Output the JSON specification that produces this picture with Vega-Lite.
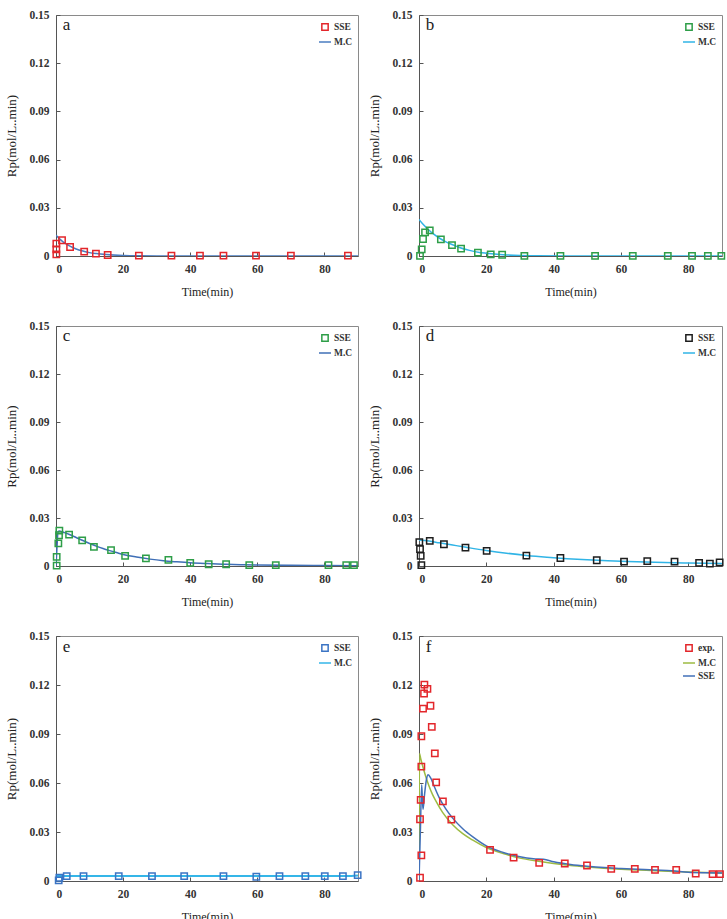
{
  "$schema": "https://vega.github.io/schema/vega-lite/v6.json",
  "padding": {"left": 5, "top": 8, "right": 0, "bottom": 0},
  "background": "white",
  "datasets": {
    "a": [
      {"series": "SSE", "kind": "obs", "t": 0.1, "rp": 0.0077},
      {"series": "SSE", "kind": "obs", "t": 0.1, "rp": 0.0041},
      {"series": "SSE", "kind": "obs", "t": 0.1, "rp": 0.001},
      {"series": "SSE", "kind": "obs", "t": 1.8, "rp": 0.0098},
      {"series": "SSE", "kind": "obs", "t": 4.2, "rp": 0.0056},
      {"series": "SSE", "kind": "obs", "t": 8.4, "rp": 0.0027},
      {"series": "SSE", "kind": "obs", "t": 11.9, "rp": 0.0015},
      {"series": "SSE", "kind": "obs", "t": 15.4, "rp": 0.0006},
      {"series": "SSE", "kind": "obs", "t": 24.7, "rp": 0.0002},
      {"series": "SSE", "kind": "obs", "t": 34.4, "rp": 0.0002},
      {"series": "SSE", "kind": "obs", "t": 42.9, "rp": 0.0002},
      {"series": "SSE", "kind": "obs", "t": 49.9, "rp": 0.0002},
      {"series": "SSE", "kind": "obs", "t": 59.6, "rp": 0.0002},
      {"series": "SSE", "kind": "obs", "t": 70, "rp": 0.0002},
      {"series": "SSE", "kind": "obs", "t": 87, "rp": 0.0002},
      {"series": "M.C", "kind": "fit", "t": 0, "rp": 0.0129},
      {"series": "M.C", "kind": "fit", "t": 1, "rp": 0.0108},
      {"series": "M.C", "kind": "fit", "t": 2, "rp": 0.009},
      {"series": "M.C", "kind": "fit", "t": 3, "rp": 0.0075},
      {"series": "M.C", "kind": "fit", "t": 4, "rp": 0.0063},
      {"series": "M.C", "kind": "fit", "t": 6, "rp": 0.0044},
      {"series": "M.C", "kind": "fit", "t": 8, "rp": 0.0031},
      {"series": "M.C", "kind": "fit", "t": 10, "rp": 0.0021},
      {"series": "M.C", "kind": "fit", "t": 12, "rp": 0.0015},
      {"series": "M.C", "kind": "fit", "t": 15, "rp": 0.0009},
      {"series": "M.C", "kind": "fit", "t": 20, "rp": 0.0003},
      {"series": "M.C", "kind": "fit", "t": 25, "rp": 0.0001},
      {"series": "M.C", "kind": "fit", "t": 30, "rp": 0.00005},
      {"series": "M.C", "kind": "fit", "t": 40, "rp": 0},
      {"series": "M.C", "kind": "fit", "t": 90, "rp": 0}
    ],
    "b": [
      {"series": "SSE", "kind": "obs", "t": 0.3, "rp": 0.0001},
      {"series": "SSE", "kind": "obs", "t": 0.8, "rp": 0.0041},
      {"series": "SSE", "kind": "obs", "t": 1.2, "rp": 0.0106},
      {"series": "SSE", "kind": "obs", "t": 1.8, "rp": 0.0147},
      {"series": "SSE", "kind": "obs", "t": 3.2, "rp": 0.016},
      {"series": "SSE", "kind": "obs", "t": 6.5, "rp": 0.0104},
      {"series": "SSE", "kind": "obs", "t": 9.8, "rp": 0.0068},
      {"series": "SSE", "kind": "obs", "t": 12.5, "rp": 0.0046},
      {"series": "SSE", "kind": "obs", "t": 17.5, "rp": 0.0021},
      {"series": "SSE", "kind": "obs", "t": 21.3, "rp": 0.001},
      {"series": "SSE", "kind": "obs", "t": 24.7, "rp": 0.0008},
      {"series": "SSE", "kind": "obs", "t": 31.3, "rp": 0.0001},
      {"series": "SSE", "kind": "obs", "t": 42, "rp": 0.0001},
      {"series": "SSE", "kind": "obs", "t": 52.3, "rp": 0.0001},
      {"series": "SSE", "kind": "obs", "t": 63.5, "rp": 0.0001},
      {"series": "SSE", "kind": "obs", "t": 73.9, "rp": 0.0001},
      {"series": "SSE", "kind": "obs", "t": 81.1, "rp": 0.0001},
      {"series": "SSE", "kind": "obs", "t": 85.8, "rp": 0.0001},
      {"series": "SSE", "kind": "obs", "t": 89.8, "rp": 0.0001},
      {"series": "M.C", "kind": "fit", "t": 0, "rp": 0.0228},
      {"series": "M.C", "kind": "fit", "t": 1, "rp": 0.0202},
      {"series": "M.C", "kind": "fit", "t": 2, "rp": 0.018},
      {"series": "M.C", "kind": "fit", "t": 3, "rp": 0.016},
      {"series": "M.C", "kind": "fit", "t": 4, "rp": 0.0142},
      {"series": "M.C", "kind": "fit", "t": 6, "rp": 0.0112},
      {"series": "M.C", "kind": "fit", "t": 8, "rp": 0.0088},
      {"series": "M.C", "kind": "fit", "t": 10, "rp": 0.007},
      {"series": "M.C", "kind": "fit", "t": 12, "rp": 0.0053},
      {"series": "M.C", "kind": "fit", "t": 15, "rp": 0.0035},
      {"series": "M.C", "kind": "fit", "t": 18, "rp": 0.0022},
      {"series": "M.C", "kind": "fit", "t": 20, "rp": 0.0017},
      {"series": "M.C", "kind": "fit", "t": 25, "rp": 0.0008},
      {"series": "M.C", "kind": "fit", "t": 30, "rp": 0.0003},
      {"series": "M.C", "kind": "fit", "t": 35, "rp": 0.0001},
      {"series": "M.C", "kind": "fit", "t": 45, "rp": 0.00003},
      {"series": "M.C", "kind": "fit", "t": 90, "rp": 0}
    ],
    "c": [
      {"series": "SSE", "kind": "obs", "t": 0.2, "rp": 0.0002},
      {"series": "SSE", "kind": "obs", "t": 0.2, "rp": 0.0057},
      {"series": "SSE", "kind": "obs", "t": 0.7, "rp": 0.0141},
      {"series": "SSE", "kind": "obs", "t": 0.9, "rp": 0.0192},
      {"series": "SSE", "kind": "obs", "t": 1.0, "rp": 0.0221},
      {"series": "SSE", "kind": "obs", "t": 3.9, "rp": 0.0196},
      {"series": "SSE", "kind": "obs", "t": 7.8, "rp": 0.016},
      {"series": "SSE", "kind": "obs", "t": 11.3, "rp": 0.012},
      {"series": "SSE", "kind": "obs", "t": 16.4, "rp": 0.0099},
      {"series": "SSE", "kind": "obs", "t": 20.6, "rp": 0.0063},
      {"series": "SSE", "kind": "obs", "t": 26.8, "rp": 0.0048},
      {"series": "SSE", "kind": "obs", "t": 33.5, "rp": 0.0038},
      {"series": "SSE", "kind": "obs", "t": 40, "rp": 0.0019},
      {"series": "SSE", "kind": "obs", "t": 45.5, "rp": 0.0011},
      {"series": "SSE", "kind": "obs", "t": 50.7, "rp": 0.0011},
      {"series": "SSE", "kind": "obs", "t": 57.6, "rp": 0.0006},
      {"series": "SSE", "kind": "obs", "t": 65.5, "rp": 0.0006},
      {"series": "SSE", "kind": "obs", "t": 81.2, "rp": 0.0006},
      {"series": "SSE", "kind": "obs", "t": 86.5, "rp": 0.0006},
      {"series": "SSE", "kind": "obs", "t": 88.8, "rp": 0.0006},
      {"series": "M.C", "kind": "fit", "t": 0, "rp": 0},
      {"series": "M.C", "kind": "fit", "t": 0.3, "rp": 0.012},
      {"series": "M.C", "kind": "fit", "t": 0.6, "rp": 0.0215},
      {"series": "M.C", "kind": "fit", "t": 1, "rp": 0.0218},
      {"series": "M.C", "kind": "fit", "t": 2, "rp": 0.0212},
      {"series": "M.C", "kind": "fit", "t": 4, "rp": 0.0197},
      {"series": "M.C", "kind": "fit", "t": 6, "rp": 0.0178},
      {"series": "M.C", "kind": "fit", "t": 8, "rp": 0.0159},
      {"series": "M.C", "kind": "fit", "t": 10, "rp": 0.0141},
      {"series": "M.C", "kind": "fit", "t": 12, "rp": 0.0124},
      {"series": "M.C", "kind": "fit", "t": 14, "rp": 0.0109},
      {"series": "M.C", "kind": "fit", "t": 16, "rp": 0.0096},
      {"series": "M.C", "kind": "fit", "t": 18, "rp": 0.0084},
      {"series": "M.C", "kind": "fit", "t": 20, "rp": 0.0072},
      {"series": "M.C", "kind": "fit", "t": 24, "rp": 0.0056},
      {"series": "M.C", "kind": "fit", "t": 28, "rp": 0.0043},
      {"series": "M.C", "kind": "fit", "t": 32, "rp": 0.0033},
      {"series": "M.C", "kind": "fit", "t": 36, "rp": 0.0026},
      {"series": "M.C", "kind": "fit", "t": 40, "rp": 0.002},
      {"series": "M.C", "kind": "fit", "t": 45, "rp": 0.0015},
      {"series": "M.C", "kind": "fit", "t": 50, "rp": 0.0011},
      {"series": "M.C", "kind": "fit", "t": 55, "rp": 0.0008},
      {"series": "M.C", "kind": "fit", "t": 60, "rp": 0.0006},
      {"series": "M.C", "kind": "fit", "t": 70, "rp": 0.0004},
      {"series": "M.C", "kind": "fit", "t": 80, "rp": 0.0003},
      {"series": "M.C", "kind": "fit", "t": 90, "rp": 0.0002}
    ],
    "d": [
      {"series": "SSE", "kind": "obs", "t": 0.1, "rp": 0.0149},
      {"series": "SSE", "kind": "obs", "t": 0.3, "rp": 0.0105},
      {"series": "SSE", "kind": "obs", "t": 0.5, "rp": 0.0063},
      {"series": "SSE", "kind": "obs", "t": 0.7, "rp": 0.0006},
      {"series": "SSE", "kind": "obs", "t": 3.2, "rp": 0.0157},
      {"series": "SSE", "kind": "obs", "t": 7.4, "rp": 0.0136},
      {"series": "SSE", "kind": "obs", "t": 13.8, "rp": 0.0115},
      {"series": "SSE", "kind": "obs", "t": 20.1, "rp": 0.0094},
      {"series": "SSE", "kind": "obs", "t": 31.9, "rp": 0.0065},
      {"series": "SSE", "kind": "obs", "t": 42, "rp": 0.005},
      {"series": "SSE", "kind": "obs", "t": 52.8, "rp": 0.0036},
      {"series": "SSE", "kind": "obs", "t": 60.9, "rp": 0.0027},
      {"series": "SSE", "kind": "obs", "t": 67.8, "rp": 0.0031},
      {"series": "SSE", "kind": "obs", "t": 75.9, "rp": 0.0027},
      {"series": "SSE", "kind": "obs", "t": 83.2, "rp": 0.0019},
      {"series": "SSE", "kind": "obs", "t": 86.4, "rp": 0.0015},
      {"series": "SSE", "kind": "obs", "t": 89.3, "rp": 0.0023},
      {"series": "M.C", "kind": "fit", "t": 0, "rp": 0.0162},
      {"series": "M.C", "kind": "fit", "t": 3, "rp": 0.0156},
      {"series": "M.C", "kind": "fit", "t": 6, "rp": 0.0145},
      {"series": "M.C", "kind": "fit", "t": 10, "rp": 0.0131},
      {"series": "M.C", "kind": "fit", "t": 14, "rp": 0.0117},
      {"series": "M.C", "kind": "fit", "t": 20, "rp": 0.0097},
      {"series": "M.C", "kind": "fit", "t": 26, "rp": 0.008},
      {"series": "M.C", "kind": "fit", "t": 32, "rp": 0.0066},
      {"series": "M.C", "kind": "fit", "t": 38, "rp": 0.0055},
      {"series": "M.C", "kind": "fit", "t": 44, "rp": 0.0046},
      {"series": "M.C", "kind": "fit", "t": 50, "rp": 0.0039},
      {"series": "M.C", "kind": "fit", "t": 56, "rp": 0.0033},
      {"series": "M.C", "kind": "fit", "t": 62, "rp": 0.0028},
      {"series": "M.C", "kind": "fit", "t": 70, "rp": 0.0023},
      {"series": "M.C", "kind": "fit", "t": 80, "rp": 0.0019},
      {"series": "M.C", "kind": "fit", "t": 90, "rp": 0.0016}
    ],
    "e": [
      {"series": "SSE", "kind": "obs", "t": 0.8, "rp": 0.0004},
      {"series": "SSE", "kind": "obs", "t": 1, "rp": 0.002},
      {"series": "SSE", "kind": "obs", "t": 3.2, "rp": 0.003},
      {"series": "SSE", "kind": "obs", "t": 8.2, "rp": 0.003},
      {"series": "SSE", "kind": "obs", "t": 18.7, "rp": 0.003},
      {"series": "SSE", "kind": "obs", "t": 28.6, "rp": 0.003},
      {"series": "SSE", "kind": "obs", "t": 38.2, "rp": 0.003},
      {"series": "SSE", "kind": "obs", "t": 49.9, "rp": 0.003},
      {"series": "SSE", "kind": "obs", "t": 59.7, "rp": 0.0026},
      {"series": "SSE", "kind": "obs", "t": 66.6, "rp": 0.003},
      {"series": "SSE", "kind": "obs", "t": 74.3, "rp": 0.003},
      {"series": "SSE", "kind": "obs", "t": 80.1, "rp": 0.003},
      {"series": "SSE", "kind": "obs", "t": 85.5, "rp": 0.003},
      {"series": "SSE", "kind": "obs", "t": 89.9, "rp": 0.0036},
      {"series": "M.C", "kind": "fit", "t": 0, "rp": 0.003},
      {"series": "M.C", "kind": "fit", "t": 45, "rp": 0.003},
      {"series": "M.C", "kind": "fit", "t": 88, "rp": 0.0031},
      {"series": "M.C", "kind": "fit", "t": 90, "rp": 0.0034}
    ],
    "f": [
      {"series": "exp.", "kind": "obs", "t": 0.3, "rp": 0.002},
      {"series": "exp.", "kind": "obs", "t": 0.7, "rp": 0.0157},
      {"series": "exp.", "kind": "obs", "t": 0.3, "rp": 0.0378},
      {"series": "exp.", "kind": "obs", "t": 0.5, "rp": 0.0497},
      {"series": "exp.", "kind": "obs", "t": 0.7, "rp": 0.07},
      {"series": "exp.", "kind": "obs", "t": 0.7, "rp": 0.0886},
      {"series": "exp.", "kind": "obs", "t": 1.2, "rp": 0.1055},
      {"series": "exp.", "kind": "obs", "t": 1.5, "rp": 0.1148},
      {"series": "exp.", "kind": "obs", "t": 1.6, "rp": 0.1202},
      {"series": "exp.", "kind": "obs", "t": 2.5, "rp": 0.1176},
      {"series": "exp.", "kind": "obs", "t": 3.4, "rp": 0.1073},
      {"series": "exp.", "kind": "obs", "t": 3.8, "rp": 0.0944},
      {"series": "exp.", "kind": "obs", "t": 4.7, "rp": 0.0781},
      {"series": "exp.", "kind": "obs", "t": 5.1, "rp": 0.0604},
      {"series": "exp.", "kind": "obs", "t": 7.1, "rp": 0.0487},
      {"series": "exp.", "kind": "obs", "t": 9.6, "rp": 0.0376},
      {"series": "exp.", "kind": "obs", "t": 21.1, "rp": 0.0191},
      {"series": "exp.", "kind": "obs", "t": 28.1, "rp": 0.0143},
      {"series": "exp.", "kind": "obs", "t": 35.7, "rp": 0.0111},
      {"series": "exp.", "kind": "obs", "t": 43.3, "rp": 0.0107},
      {"series": "exp.", "kind": "obs", "t": 49.9, "rp": 0.0095},
      {"series": "exp.", "kind": "obs", "t": 57.1, "rp": 0.0074},
      {"series": "exp.", "kind": "obs", "t": 64.1, "rp": 0.0074},
      {"series": "exp.", "kind": "obs", "t": 70.1, "rp": 0.0068},
      {"series": "exp.", "kind": "obs", "t": 76.4, "rp": 0.0068},
      {"series": "exp.", "kind": "obs", "t": 82.2, "rp": 0.0046},
      {"series": "exp.", "kind": "obs", "t": 87.2, "rp": 0.0042},
      {"series": "exp.", "kind": "obs", "t": 89.4, "rp": 0.0042},
      {"series": "M.C", "kind": "fit", "t": 0, "rp": 0},
      {"series": "M.C", "kind": "fit", "t": 0.15, "rp": 0.078},
      {"series": "M.C", "kind": "fit", "t": 0.5, "rp": 0.075},
      {"series": "M.C", "kind": "fit", "t": 1, "rp": 0.071},
      {"series": "M.C", "kind": "fit", "t": 2, "rp": 0.064},
      {"series": "M.C", "kind": "fit", "t": 3, "rp": 0.058},
      {"series": "M.C", "kind": "fit", "t": 4, "rp": 0.053},
      {"series": "M.C", "kind": "fit", "t": 5, "rp": 0.049},
      {"series": "M.C", "kind": "fit", "t": 7, "rp": 0.042},
      {"series": "M.C", "kind": "fit", "t": 10, "rp": 0.0345},
      {"series": "M.C", "kind": "fit", "t": 13, "rp": 0.029},
      {"series": "M.C", "kind": "fit", "t": 16, "rp": 0.025},
      {"series": "M.C", "kind": "fit", "t": 20, "rp": 0.0205},
      {"series": "M.C", "kind": "fit", "t": 25, "rp": 0.0168},
      {"series": "M.C", "kind": "fit", "t": 30, "rp": 0.014},
      {"series": "M.C", "kind": "fit", "t": 35, "rp": 0.0122},
      {"series": "M.C", "kind": "fit", "t": 40, "rp": 0.0107},
      {"series": "M.C", "kind": "fit", "t": 45, "rp": 0.0095},
      {"series": "M.C", "kind": "fit", "t": 50, "rp": 0.0086},
      {"series": "M.C", "kind": "fit", "t": 60, "rp": 0.0072},
      {"series": "M.C", "kind": "fit", "t": 70, "rp": 0.0063},
      {"series": "M.C", "kind": "fit", "t": 80, "rp": 0.0055},
      {"series": "M.C", "kind": "fit", "t": 90, "rp": 0.0049},
      {"series": "SSE", "kind": "fit", "t": 0, "rp": 0},
      {"series": "SSE", "kind": "fit", "t": 0.4, "rp": 0.03},
      {"series": "SSE", "kind": "fit", "t": 0.8, "rp": 0.059},
      {"series": "SSE", "kind": "fit", "t": 1.0, "rp": 0.05},
      {"series": "SSE", "kind": "fit", "t": 1.2, "rp": 0.044},
      {"series": "SSE", "kind": "fit", "t": 1.6, "rp": 0.052},
      {"series": "SSE", "kind": "fit", "t": 2.2, "rp": 0.062},
      {"series": "SSE", "kind": "fit", "t": 2.7, "rp": 0.065},
      {"series": "SSE", "kind": "fit", "t": 3.5, "rp": 0.063},
      {"series": "SSE", "kind": "fit", "t": 4.5, "rp": 0.058},
      {"series": "SSE", "kind": "fit", "t": 6, "rp": 0.051},
      {"series": "SSE", "kind": "fit", "t": 8, "rp": 0.044},
      {"series": "SSE", "kind": "fit", "t": 10, "rp": 0.0385},
      {"series": "SSE", "kind": "fit", "t": 13, "rp": 0.032},
      {"series": "SSE", "kind": "fit", "t": 16, "rp": 0.027},
      {"series": "SSE", "kind": "fit", "t": 20, "rp": 0.0215},
      {"series": "SSE", "kind": "fit", "t": 25, "rp": 0.0175},
      {"series": "SSE", "kind": "fit", "t": 30, "rp": 0.0148},
      {"series": "SSE", "kind": "fit", "t": 34, "rp": 0.0136},
      {"series": "SSE", "kind": "fit", "t": 37, "rp": 0.0133},
      {"series": "SSE", "kind": "fit", "t": 40, "rp": 0.0118},
      {"series": "SSE", "kind": "fit", "t": 45, "rp": 0.0101},
      {"series": "SSE", "kind": "fit", "t": 50, "rp": 0.009},
      {"series": "SSE", "kind": "fit", "t": 55, "rp": 0.0082},
      {"series": "SSE", "kind": "fit", "t": 60, "rp": 0.0077},
      {"series": "SSE", "kind": "fit", "t": 65, "rp": 0.0072},
      {"series": "SSE", "kind": "fit", "t": 70, "rp": 0.0067},
      {"series": "SSE", "kind": "fit", "t": 75, "rp": 0.0063},
      {"series": "SSE", "kind": "fit", "t": 80, "rp": 0.0053},
      {"series": "SSE", "kind": "fit", "t": 85, "rp": 0.005},
      {"series": "SSE", "kind": "fit", "t": 90, "rp": 0.0049}
    ]
  },
  "columns": 2,
  "spacing": {"row": 70, "column": 61},
  "bounds": "flush",
  "resolve": {"scale": {"color": "independent", "x": "independent", "y": "independent"}, "legend": {"color": "independent"}},
  "concat": [
    {
      "width": 302, "height": 241,
      "layer": [
        {"data": {"name": "a"}, "transform": [{"filter": "datum.kind === 'fit'"}],
         "mark": {"type": "line", "strokeWidth": 1.5, "interpolate": "monotone", "clip": true},
         "encoding": {
           "x": {"field": "t", "type": "quantitative", "scale": {"domain": [0, 90], "nice": false, "zero": false},
                 "axis": {"title": "Time(min)", "values": [0, 10, 20, 30, 40, 50, 60, 70, 80, 90], "labelExpr": "datum.value % 20 === 0 && datum.value < 90 ? datum.label : ''", "tickSize": {"condition": {"test": "datum.value % 20 === 0", "value": -4}, "value": -2.5}}},
           "y": {"field": "rp", "type": "quantitative", "scale": {"domain": [0, 0.15], "nice": false},
                 "axis": {"title": "Rp(mol/L..min)", "values": [0, 0.015, 0.03, 0.045, 0.06, 0.075, 0.09, 0.105, 0.12, 0.135, 0.15], "labelExpr": "round(datum.value * 1000) % 30 === 0 ? (datum.value === 0 ? '0' : format(datum.value, '.2f')) : ''", "tickSize": {"condition": {"test": "round(datum.value * 1000) % 30 === 0", "value": -4}, "value": -2.5}}},
           "color": {"field": "series", "type": "nominal", "scale": {"domain": ["SSE", "M.C"], "range": ["#e3262b", "#4a7cc0"]},
                     "legend": {"title": null, "encode": {"symbols": {"update": {"size": {"signal": "datum.value === 'SSE' ? 40 : 144"}, "shape": {"signal": "datum.value === 'SSE' ? 'square' : 'stroke'"}, "fill": {"value": "transparent"}}}}}}
         }},
        {"data": {"name": "a"}, "transform": [{"filter": "datum.kind === 'obs'"}],
         "mark": {"type": "point", "shape": "square", "filled": false, "size": 40, "strokeWidth": 1.5, "opacity": 1},
         "encoding": {"x": {"field": "t", "type": "quantitative"}, "y": {"field": "rp", "type": "quantitative"}, "color": {"field": "series", "type": "nominal"}}},
        {"data": {"values": [{"label": "a", "t": 2, "rp": 0.1405}]},
         "mark": {"type": "text", "align": "left", "baseline": "alphabetic", "fontSize": 17, "font": "Liberation Serif", "color": "#222"},
         "encoding": {"x": {"field": "t", "type": "quantitative"}, "y": {"field": "rp", "type": "quantitative"}, "text": {"field": "label"}}}
      ]
    },
    {
      "width": 303, "height": 241,
      "layer": [
        {"data": {"name": "b"}, "transform": [{"filter": "datum.kind === 'fit'"}],
         "mark": {"type": "line", "strokeWidth": 1.5, "interpolate": "monotone", "clip": true},
         "encoding": {
           "x": {"field": "t", "type": "quantitative", "scale": {"domain": [0, 90], "nice": false, "zero": false},
                 "axis": {"title": "Time(min)", "values": [0, 10, 20, 30, 40, 50, 60, 70, 80, 90], "labelExpr": "datum.value % 20 === 0 && datum.value < 90 ? datum.label : ''", "tickSize": {"condition": {"test": "datum.value % 20 === 0", "value": -4}, "value": -2.5}}},
           "y": {"field": "rp", "type": "quantitative", "scale": {"domain": [0, 0.15], "nice": false},
                 "axis": {"title": "Rp(mol/L..min)", "values": [0, 0.015, 0.03, 0.045, 0.06, 0.075, 0.09, 0.105, 0.12, 0.135, 0.15], "labelExpr": "round(datum.value * 1000) % 30 === 0 ? (datum.value === 0 ? '0' : format(datum.value, '.2f')) : ''", "tickSize": {"condition": {"test": "round(datum.value * 1000) % 30 === 0", "value": -4}, "value": -2.5}}},
           "color": {"field": "series", "type": "nominal", "scale": {"domain": ["SSE", "M.C"], "range": ["#2e9e48", "#30b4e6"]},
                     "legend": {"title": null, "encode": {"symbols": {"update": {"size": {"signal": "datum.value === 'SSE' ? 40 : 144"}, "shape": {"signal": "datum.value === 'SSE' ? 'square' : 'stroke'"}, "fill": {"value": "transparent"}}}}}}
         }},
        {"data": {"name": "b"}, "transform": [{"filter": "datum.kind === 'obs'"}],
         "mark": {"type": "point", "shape": "square", "filled": false, "size": 40, "strokeWidth": 1.5, "opacity": 1},
         "encoding": {"x": {"field": "t", "type": "quantitative"}, "y": {"field": "rp", "type": "quantitative"}, "color": {"field": "series", "type": "nominal"}}},
        {"data": {"values": [{"label": "b", "t": 2, "rp": 0.1405}]},
         "mark": {"type": "text", "align": "left", "baseline": "alphabetic", "fontSize": 17, "font": "Liberation Serif", "color": "#222"},
         "encoding": {"x": {"field": "t", "type": "quantitative"}, "y": {"field": "rp", "type": "quantitative"}, "text": {"field": "label"}}}
      ]
    },
    {
      "width": 302, "height": 240,
      "layer": [
        {"data": {"name": "c"}, "transform": [{"filter": "datum.kind === 'fit'"}],
         "mark": {"type": "line", "strokeWidth": 1.5, "interpolate": "monotone", "clip": true},
         "encoding": {
           "x": {"field": "t", "type": "quantitative", "scale": {"domain": [0, 90], "nice": false, "zero": false},
                 "axis": {"title": "Time(min)", "values": [0, 10, 20, 30, 40, 50, 60, 70, 80, 90], "labelExpr": "datum.value % 20 === 0 && datum.value < 90 ? datum.label : ''", "tickSize": {"condition": {"test": "datum.value % 20 === 0", "value": -4}, "value": -2.5}}},
           "y": {"field": "rp", "type": "quantitative", "scale": {"domain": [0, 0.15], "nice": false},
                 "axis": {"title": "Rp(mol/L..min)", "values": [0, 0.015, 0.03, 0.045, 0.06, 0.075, 0.09, 0.105, 0.12, 0.135, 0.15], "labelExpr": "round(datum.value * 1000) % 30 === 0 ? (datum.value === 0 ? '0' : format(datum.value, '.2f')) : ''", "tickSize": {"condition": {"test": "round(datum.value * 1000) % 30 === 0", "value": -4}, "value": -2.5}}},
           "color": {"field": "series", "type": "nominal", "scale": {"domain": ["SSE", "M.C"], "range": ["#2e9e48", "#3f6fb6"]},
                     "legend": {"title": null, "encode": {"symbols": {"update": {"size": {"signal": "datum.value === 'SSE' ? 40 : 144"}, "shape": {"signal": "datum.value === 'SSE' ? 'square' : 'stroke'"}, "fill": {"value": "transparent"}}}}}}
         }},
        {"data": {"name": "c"}, "transform": [{"filter": "datum.kind === 'obs'"}],
         "mark": {"type": "point", "shape": "square", "filled": false, "size": 40, "strokeWidth": 1.5, "opacity": 1},
         "encoding": {"x": {"field": "t", "type": "quantitative"}, "y": {"field": "rp", "type": "quantitative"}, "color": {"field": "series", "type": "nominal"}}},
        {"data": {"values": [{"label": "c", "t": 2, "rp": 0.1405}]},
         "mark": {"type": "text", "align": "left", "baseline": "alphabetic", "fontSize": 17, "font": "Liberation Serif", "color": "#222"},
         "encoding": {"x": {"field": "t", "type": "quantitative"}, "y": {"field": "rp", "type": "quantitative"}, "text": {"field": "label"}}}
      ]
    },
    {
      "width": 303, "height": 240,
      "layer": [
        {"data": {"name": "d"}, "transform": [{"filter": "datum.kind === 'fit'"}],
         "mark": {"type": "line", "strokeWidth": 1.5, "interpolate": "monotone", "clip": true},
         "encoding": {
           "x": {"field": "t", "type": "quantitative", "scale": {"domain": [0, 90], "nice": false, "zero": false},
                 "axis": {"title": "Time(min)", "values": [0, 10, 20, 30, 40, 50, 60, 70, 80, 90], "labelExpr": "datum.value % 20 === 0 && datum.value < 90 ? datum.label : ''", "tickSize": {"condition": {"test": "datum.value % 20 === 0", "value": -4}, "value": -2.5}}},
           "y": {"field": "rp", "type": "quantitative", "scale": {"domain": [0, 0.15], "nice": false},
                 "axis": {"title": "Rp(mol/L..min)", "values": [0, 0.015, 0.03, 0.045, 0.06, 0.075, 0.09, 0.105, 0.12, 0.135, 0.15], "labelExpr": "round(datum.value * 1000) % 30 === 0 ? (datum.value === 0 ? '0' : format(datum.value, '.2f')) : ''", "tickSize": {"condition": {"test": "round(datum.value * 1000) % 30 === 0", "value": -4}, "value": -2.5}}},
           "color": {"field": "series", "type": "nominal", "scale": {"domain": ["SSE", "M.C"], "range": ["#1e1e1e", "#30b4e6"]},
                     "legend": {"title": null, "encode": {"symbols": {"update": {"size": {"signal": "datum.value === 'SSE' ? 40 : 144"}, "shape": {"signal": "datum.value === 'SSE' ? 'square' : 'stroke'"}, "fill": {"value": "transparent"}}}}}}
         }},
        {"data": {"name": "d"}, "transform": [{"filter": "datum.kind === 'obs'"}],
         "mark": {"type": "point", "shape": "square", "filled": false, "size": 40, "strokeWidth": 1.5, "opacity": 1},
         "encoding": {"x": {"field": "t", "type": "quantitative"}, "y": {"field": "rp", "type": "quantitative"}, "color": {"field": "series", "type": "nominal"}}},
        {"data": {"values": [{"label": "d", "t": 2, "rp": 0.1405}]},
         "mark": {"type": "text", "align": "left", "baseline": "alphabetic", "fontSize": 17, "font": "Liberation Serif", "color": "#222"},
         "encoding": {"x": {"field": "t", "type": "quantitative"}, "y": {"field": "rp", "type": "quantitative"}, "text": {"field": "label"}}}
      ]
    },
    {
      "width": 302, "height": 245,
      "layer": [
        {"data": {"name": "e"}, "transform": [{"filter": "datum.kind === 'fit'"}],
         "mark": {"type": "line", "strokeWidth": 2, "interpolate": "monotone", "clip": true},
         "encoding": {
           "x": {"field": "t", "type": "quantitative", "scale": {"domain": [0, 90], "nice": false, "zero": false},
                 "axis": {"title": "Time(min)", "values": [0, 10, 20, 30, 40, 50, 60, 70, 80, 90], "labelExpr": "datum.value % 20 === 0 && datum.value < 90 ? datum.label : ''", "tickSize": {"condition": {"test": "datum.value % 20 === 0", "value": -4}, "value": -2.5}}},
           "y": {"field": "rp", "type": "quantitative", "scale": {"domain": [0, 0.15], "nice": false},
                 "axis": {"title": "Rp(mol/L..min)", "values": [0, 0.015, 0.03, 0.045, 0.06, 0.075, 0.09, 0.105, 0.12, 0.135, 0.15], "labelExpr": "round(datum.value * 1000) % 30 === 0 ? (datum.value === 0 ? '0' : format(datum.value, '.2f')) : ''", "tickSize": {"condition": {"test": "round(datum.value * 1000) % 30 === 0", "value": -4}, "value": -2.5}}},
           "color": {"field": "series", "type": "nominal", "scale": {"domain": ["SSE", "M.C"], "range": ["#3b74c4", "#35b6e8"]},
                     "legend": {"title": null, "encode": {"symbols": {"update": {"size": {"signal": "datum.value === 'SSE' ? 40 : 144"}, "shape": {"signal": "datum.value === 'SSE' ? 'square' : 'stroke'"}, "fill": {"value": "transparent"}}}}}}
         }},
        {"data": {"name": "e"}, "transform": [{"filter": "datum.kind === 'obs'"}],
         "mark": {"type": "point", "shape": "square", "filled": false, "size": 40, "strokeWidth": 1.5, "opacity": 1},
         "encoding": {"x": {"field": "t", "type": "quantitative"}, "y": {"field": "rp", "type": "quantitative"}, "color": {"field": "series", "type": "nominal"}}},
        {"data": {"values": [{"label": "e", "t": 2, "rp": 0.1405}]},
         "mark": {"type": "text", "align": "left", "baseline": "alphabetic", "fontSize": 17, "font": "Liberation Serif", "color": "#222"},
         "encoding": {"x": {"field": "t", "type": "quantitative"}, "y": {"field": "rp", "type": "quantitative"}, "text": {"field": "label"}}}
      ]
    },
    {
      "width": 303, "height": 245,
      "layer": [
        {"data": {"name": "f"}, "transform": [{"filter": "datum.kind === 'fit'"}],
         "mark": {"type": "line", "strokeWidth": 1.5, "interpolate": "monotone", "clip": true},
         "encoding": {
           "x": {"field": "t", "type": "quantitative", "scale": {"domain": [0, 90], "nice": false, "zero": false},
                 "axis": {"title": "Time(min)", "values": [0, 10, 20, 30, 40, 50, 60, 70, 80, 90], "labelExpr": "datum.value % 20 === 0 && datum.value < 90 ? datum.label : ''", "tickSize": {"condition": {"test": "datum.value % 20 === 0", "value": -4}, "value": -2.5}}},
           "y": {"field": "rp", "type": "quantitative", "scale": {"domain": [0, 0.15], "nice": false},
                 "axis": {"title": "Rp(mol/L..min)", "values": [0, 0.015, 0.03, 0.045, 0.06, 0.075, 0.09, 0.105, 0.12, 0.135, 0.15], "labelExpr": "round(datum.value * 1000) % 30 === 0 ? (datum.value === 0 ? '0' : format(datum.value, '.2f')) : ''", "tickSize": {"condition": {"test": "round(datum.value * 1000) % 30 === 0", "value": -4}, "value": -2.5}}},
           "color": {"field": "series", "type": "nominal", "scale": {"domain": ["exp.", "M.C", "SSE"], "range": ["#e3262b", "#9dbb42", "#4270b8"]},
                     "legend": {"title": null, "encode": {"symbols": {"update": {"size": {"signal": "datum.value === 'exp.' ? 40 : 144"}, "shape": {"signal": "datum.value === 'exp.' ? 'square' : 'stroke'"}, "fill": {"value": "transparent"}}}}}}
         }},
        {"data": {"name": "f"}, "transform": [{"filter": "datum.kind === 'obs'"}],
         "mark": {"type": "point", "shape": "square", "filled": false, "size": 40, "strokeWidth": 1.5, "opacity": 1},
         "encoding": {"x": {"field": "t", "type": "quantitative"}, "y": {"field": "rp", "type": "quantitative"}, "color": {"field": "series", "type": "nominal"}}},
        {"data": {"values": [{"label": "f", "t": 2, "rp": 0.1405}]},
         "mark": {"type": "text", "align": "left", "baseline": "alphabetic", "fontSize": 17, "font": "Liberation Serif", "color": "#222"},
         "encoding": {"x": {"field": "t", "type": "quantitative"}, "y": {"field": "rp", "type": "quantitative"}, "text": {"field": "label"}}}
      ]
    }
  ],
  "config": {
    "view": {"stroke": "#8a8a8a", "strokeWidth": 1},
    "font": "Liberation Serif",
    "axis": {"labelFont": "Liberation Serif", "labelFontSize": 11.5, "labelFontWeight": "bold", "labelColor": "#333", "titleFont": "Liberation Serif", "titleFontWeight": "normal", "titleColor": "#222", "domainColor": "#555", "tickColor": "#555", "grid": false, "labelPadding": 11},
    "axisX": {"titleFontSize": 12, "titlePadding": 12},
    "axisY": {"titleFontSize": 13, "titlePadding": 10},
    "legend": {"orient": "top-right", "offset": 5, "padding": 0, "labelFont": "Liberation Serif", "labelFontSize": 9.5, "labelFontWeight": "bold", "labelColor": "#333", "symbolSize": 144, "symbolStrokeWidth": 1.5, "rowPadding": 1, "labelOffset": 2}
  }
}
